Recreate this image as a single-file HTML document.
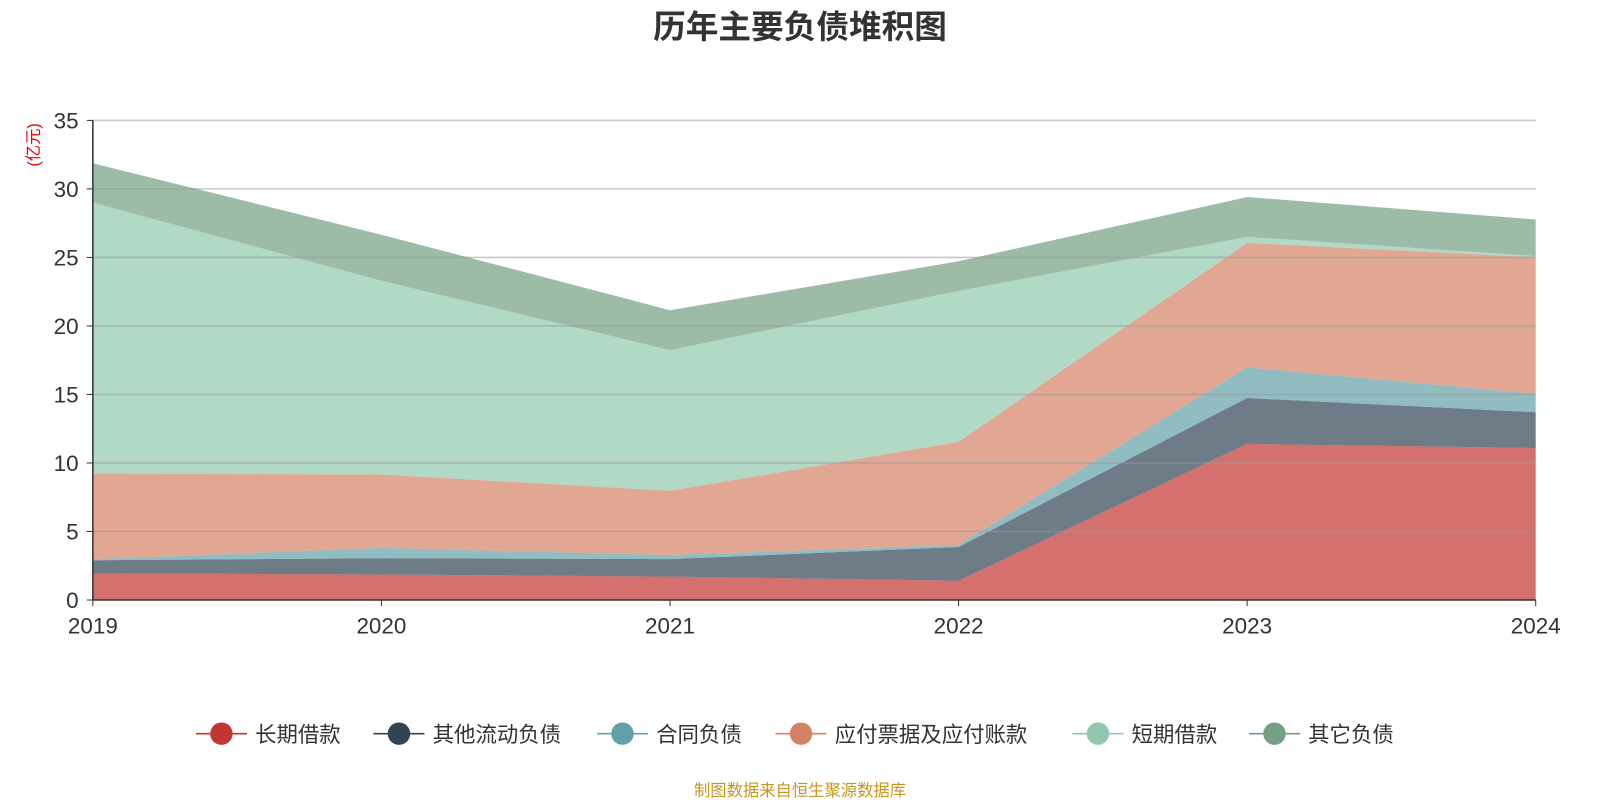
<!DOCTYPE html>
<html><head><meta charset="utf-8"><style>
body{margin:0;background:#fff;font-family:"Liberation Sans","Noto Sans CJK SC",sans-serif}
svg{display:block}
</style></head><body>
<svg id="c" width="1600" height="800" viewBox="0 0 1568 784" font-family="Liberation Sans, Noto Sans CJK SC, sans-serif"></svg>
<script>
const years=["2019","2020","2021","2022","2023","2024"];
const seriesNames=["长期借款","其他流动负债","合同负债","应付票据及应付账款","短期借款","其它负债"];
const s0=[1.94,1.86,1.71,1.41,11.39,11.09];
const s1=[0.96,1.19,1.27,2.46,3.35,2.61];
const s2=[0.08,0.75,0.30,0.15,2.24,1.34];
const s3=[6.25,5.36,4.69,7.52,9.08,9.98];
const s4=[19.77,14.14,10.27,11.02,0.44,0.08];
const s5=[2.87,3.36,2.91,2.16,2.91,2.67];
const yTicks=[0,5,10,15,20,25,30,35];
const colors=["#c23531","#2f4554","#61a0a8","#d48265","#91c7ae","#749f83"];
const series=[s0,s1,s2,s3,s4,s5];
const NS="http://www.w3.org/2000/svg";
const svg=document.getElementById('c');
const x0=91,x1=1505,y0=588,y1=118;
const X=i=>x0+(x1-x0)*i/(years.length-1);
const Y=v=>y0-(y0-y1)*v/35;
function mk(t,a,p){const e=document.createElementNS(NS,t);for(const k in a)e.setAttribute(k,a[k]);(p||svg).appendChild(e);return e;}
let title=mk('text',{x:784,y:37,'text-anchor':'middle','font-size':32,'font-weight':'bold',fill:'#333'});title.textContent="历年主要负债堆积图";


let unit=mk('text',{x:38,y:142,'text-anchor':'middle','font-size':16,fill:'#e00',transform:'rotate(-90 38 142)'});unit.textContent="(亿元)";


let base=years.map(()=>0);
series.forEach((s,k)=>{
  const top=base.map((b,i)=>b+s[i]);
  let d='M'+top.map((v,i)=>X(i)+','+Y(v)).join('L');
  for(let i=years.length-1;i>=0;i--)d+='L'+X(i)+','+Y(base[i]);
  const p=mk('path',{d:d+'Z',fill:colors[k],'fill-opacity':0.7});
  
  
  base=top;
});
yTicks.forEach(t=>{
  if(t>0){const l=mk('line',{x1:x0,x2:x1,y1:Y(t),y2:Y(t),stroke:'#999','stroke-opacity':0.55,'stroke-width':1.5});
  
  }
  mk('line',{x1:x0-6,x2:x0,y1:Y(t),y2:Y(t),stroke:'#333'});
  const tx=mk('text',{x:x0-14,y:Y(t)+8,'text-anchor':'end','font-size':22,fill:'#333'});tx.textContent=t;
  
  
});
mk('line',{x1:x0,x2:x0,y1:y1,y2:y0,stroke:'#333','stroke-width':1.5});
mk('line',{x1:x0,x2:x1,y1:y0,y2:y0,stroke:'#333','stroke-width':1.5});
years.forEach((y,i)=>{
  mk('line',{x1:X(i),x2:X(i),y1:y0,y2:y0+6,stroke:'#333'});
  const tx=mk('text',{x:X(i),y:621,'text-anchor':'middle','font-size':22,fill:'#333'});tx.textContent=y;
  
  
});
const lx=[192,366,585,760,1051,1224];
seriesNames.forEach((n,k)=>{
  const g=mk('g',{});
  
  
  mk('line',{x1:lx[k],x2:lx[k]+50,y1:719,y2:719,stroke:colors[k],'stroke-width':1.5},g);
  mk('circle',{cx:lx[k]+25,cy:719,r:11,fill:colors[k]},g);
  const t=mk('text',{x:lx[k]+58,y:727,'font-size':21,fill:'#333'},g);t.textContent=n;
});
const f=mk('text',{x:784,y:780,'text-anchor':'middle','font-size':16,fill:'#c8961e'});f.textContent="制图数据来自恒生聚源数据库";


</script>
</body></html>
